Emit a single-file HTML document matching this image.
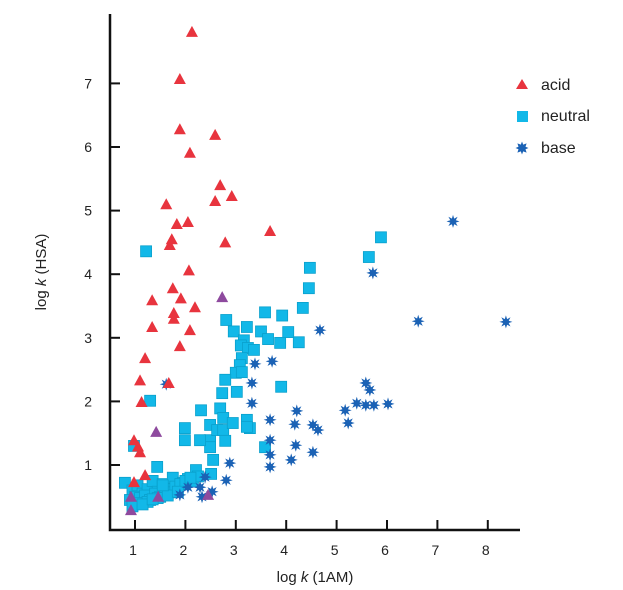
<!DOCTYPE html>
<html><head><meta charset="utf-8"><style>
html,body{margin:0;padding:0;background:#fff;}
svg{display:block;font-family:"Liberation Sans",sans-serif;}
</style></head><body>
<svg id="chart" width="623" height="590"></svg>
<script>
const xTicks=[1,2,3,4,5,6,7,8];
const yTicks=[1,2,3,4,5,6,7];
const acidX=[2.13,1.89,1.89,2.59,2.09,2.69,2.92,1.62,2.59,2.05,1.83,3.68,1.73,1.69,2.07,2.79,1.75,1.91,1.34,2.19,1.77,1.77,1.34,2.09,1.89,1.20,1.67,1.10,1.13,0.98,1.06,1.10,1.20,0.98];
const acidY=[7.81,7.07,6.28,6.19,5.91,5.40,5.23,5.10,5.15,4.82,4.79,4.68,4.55,4.46,4.06,4.50,3.78,3.62,3.59,3.48,3.39,3.30,3.17,3.12,2.87,2.68,2.29,2.33,1.99,1.39,1.29,1.20,0.84,0.73];
const otherX=[2.73,1.42,0.92,0.92,1.46,2.45];
const otherY=[3.64,1.52,0.50,0.29,0.50,0.53];
const neutralX=[1.22,5.88,5.64,4.47,4.45,4.33,4.25,3.92,4.04,3.58,3.50,3.64,3.22,2.81,2.96,3.16,3.10,3.24,3.36,3.88,3.12,3.08,3.00,2.79,3.12,3.02,2.73,3.90,1.30,2.31,2.69,1.99,1.99,2.49,2.49,2.63,2.75,2.75,2.94,3.22,3.28,3.22,2.79,2.49,2.29,2.55,2.51,3.58,0.98,1.44,2.21,
0.80,0.95,1.05,1.15,1.25,1.35,1.45,1.55,1.65,1.75,1.85,1.95,2.05,2.15,2.25,0.90,1.00,1.10,1.20,1.30,1.40,1.50,1.60,1.70,1.80,1.90,2.00,2.10,1.05,1.25,1.45,1.65,1.85,0.95,1.15,1.35,1.55];
const neutralY=[4.36,4.58,4.27,4.10,3.78,3.47,2.93,3.35,3.09,3.40,3.10,2.98,3.17,3.28,3.10,2.96,2.88,2.84,2.81,2.92,2.68,2.57,2.45,2.34,2.46,2.15,2.13,2.23,2.01,1.86,1.89,1.58,1.39,1.63,1.39,1.55,1.55,1.74,1.66,1.71,1.58,1.60,1.38,1.28,1.39,1.08,0.86,1.28,1.30,0.97,0.92,
0.72,0.60,0.68,0.55,0.62,0.75,0.58,0.70,0.65,0.80,0.60,0.72,0.78,0.74,0.82,0.45,0.50,0.48,0.52,0.45,0.55,0.50,0.62,0.57,0.66,0.70,0.75,0.80,0.40,0.42,0.48,0.52,0.58,0.35,0.38,0.46,0.68];
const baseX=[7.31,5.72,6.62,8.36,4.67,3.38,3.72,3.32,3.32,5.58,5.66,5.40,5.58,5.74,6.02,5.17,4.21,5.23,3.68,4.17,4.53,4.63,4.53,4.19,3.68,3.68,3.68,4.10,1.62,2.88,2.81,2.29,2.33,2.53,2.05,1.89,2.39];
const baseY=[4.83,4.02,3.26,3.25,3.12,2.59,2.63,2.29,1.97,2.29,2.18,1.97,1.94,1.94,1.96,1.86,1.85,1.66,1.71,1.64,1.63,1.55,1.20,1.31,1.39,1.16,0.97,1.08,2.27,1.03,0.76,0.65,0.50,0.58,0.65,0.53,0.81];

const NS='http://www.w3.org/2000/svg';
const svg=document.getElementById('chart');
const X0=110,Y0=530;
function sx(v){return 135+(v-1)*50.4;}
function sy(v){return 528.6-v*63.6;}
function mk(tag,attrs){const e=document.createElementNS(NS,tag);for(const k in attrs)e.setAttribute(k,attrs[k]);return e;}

const plot=mk('g',{});


svg.appendChild(plot);

function tri(x,y,c){return mk('polygon',{points:`${x},${y-6} ${x+6},${y+5} ${x-6},${y+5}`,fill:c});}
function sq(x,y){return mk('rect',{x:x-5.5,y:y-5.5,width:11,height:11,fill:'#12b8e8',stroke:'#0aa0cc','stroke-width':0.8});}
function star(x,y){let p=[];for(let i=0;i<16;i++){const r=i%2?3:6.5;const a=i*Math.PI/8;p.push((x+r*Math.cos(a)).toFixed(1)+','+(y+r*Math.sin(a)).toFixed(1));}return mk('polygon',{points:p.join(' '),fill:'#1b62b5'});}

neutralX.forEach((v,i)=>{const e=sq(sx(v),sy(neutralY[i]));


plot.appendChild(e);});
baseX.forEach((v,i)=>{const e=star(sx(v),sy(baseY[i]));


plot.appendChild(e);});
acidX.forEach((v,i)=>{const e=tri(sx(v),sy(acidY[i]),'#e8343e');


plot.appendChild(e);});
otherX.forEach((v,i)=>{const e=tri(sx(v),sy(otherY[i]),'#8e4a9e');


plot.appendChild(e);});

const ax=mk('path',{d:`M${X0},14 V${Y0} H520`,fill:'none',stroke:'#111','stroke-width':2.5});


svg.appendChild(ax);
xTicks.forEach(t=>{const x=sx(t);
const l=mk('line',{x1:x,x2:x,y1:Y0,y2:Y0-10,stroke:'#111','stroke-width':2});


svg.appendChild(l);
const tx=mk('text',{x:x-2,y:555,'font-size':14,'text-anchor':'middle',fill:'#222'});tx.textContent=t;


svg.appendChild(tx);});
yTicks.forEach(t=>{const y=sy(t);
const l=mk('line',{x1:X0,x2:X0+10,y1:y,y2:y,stroke:'#111','stroke-width':2});


svg.appendChild(l);
const tx=mk('text',{x:92,y:y+5,'font-size':14,'text-anchor':'end',fill:'#222'});tx.textContent=t;


svg.appendChild(tx);});
</script>
<svg style="position:absolute;left:0;top:0" width="623" height="590">
<text x="315" y="582" font-size="15" text-anchor="middle" fill="#222" font-family="Liberation Sans, sans-serif">log <tspan font-style="italic">k</tspan> (1AM)</text>
<text transform="translate(46,272) rotate(-90)" font-size="15" text-anchor="middle" fill="#222" font-family="Liberation Sans, sans-serif">log <tspan font-style="italic">k</tspan> (HSA)</text>
<g font-family="Liberation Sans, sans-serif" font-size="16" fill="#222">
<g><polygon points="522,79 528,89 516,89" fill="#e8343e"/><text x="541" y="90">acid</text></g>
<g><rect x="517" y="111" width="11" height="11" fill="#12b8e8"/><text x="541" y="121">neutral</text></g>
<g><polygon points="528.5,148 525.5,149.2 526.6,152.6 523.2,151.4 522,154.5 520.8,151.4 517.4,152.6 518.5,149.2 515.5,148 518.5,146.8 517.4,143.4 520.8,144.6 522,141.5 523.2,144.6 526.6,143.4 525.5,146.8" fill="#1b62b5"/><text x="541" y="153">base</text></g>
</g>
</svg>
</body></html>
